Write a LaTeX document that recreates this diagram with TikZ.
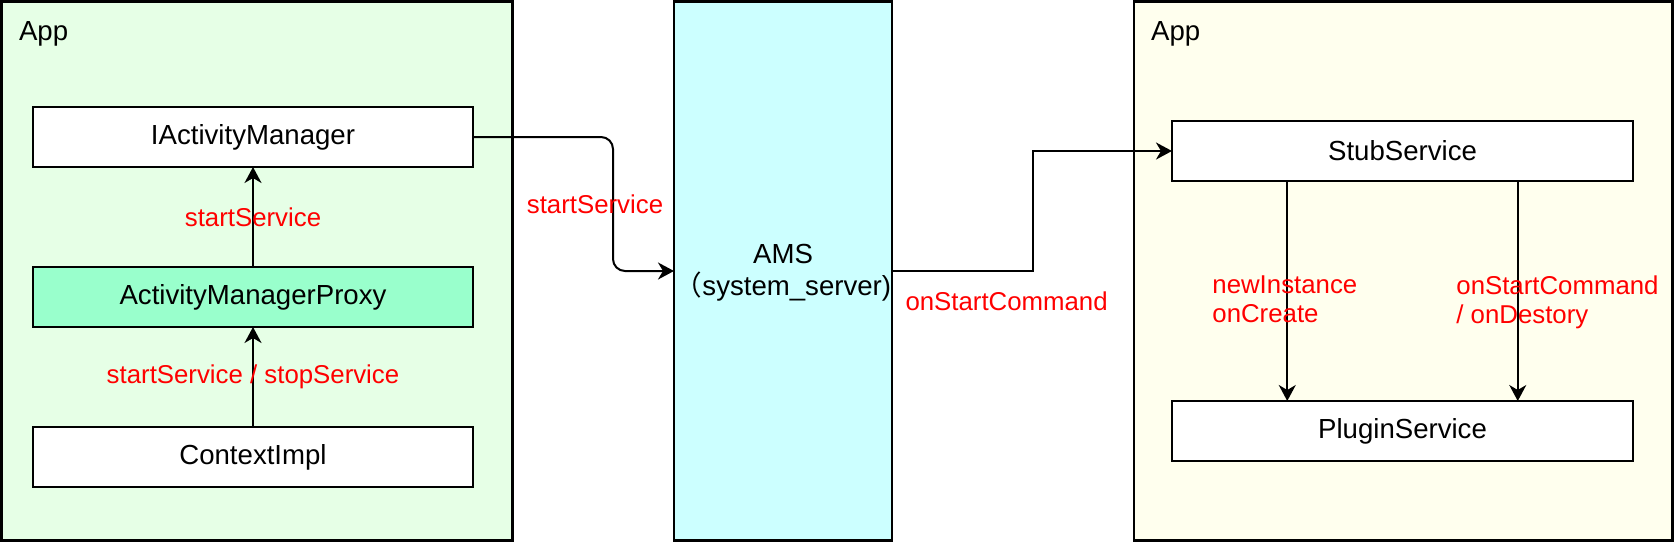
\documentclass[tikz,border=0pt]{standalone}
\usepackage{fontspec}
\setmainfont{Liberation Sans}
\newfontfamily\cjk{Noto Sans CJK SC}
\usetikzlibrary{arrows.meta,calc}
\definecolor{appgreen}{HTML}{E6FFE6}
\definecolor{proxygreen}{HTML}{99FFCC}
\definecolor{amscyan}{HTML}{CCFFFF}
\definecolor{appyellow}{HTML}{FFFFEE}
\begin{document}
\begin{tikzpicture}[x=0.5pt,y=-0.5pt,
  box/.style={draw=black, line width=1.1pt, fill=white, minimum width=220pt, minimum height=30pt, inner sep=0pt, outer sep=0pt, font=\fontsize{13.8}{16}\selectfont},
  container/.style={draw=black, line width=1.1pt, inner sep=0pt, outer sep=0pt},
  arr/.style={line width=1pt, -{Stealth[length=8pt,width=8.5pt,inset=2.5pt]}},
  lbl/.style={text=red, inner sep=0pt, font=\fontsize{12.9}{14.5}\selectfont},
  title/.style={inner sep=0pt, font=\fontsize{13.8}{16}\selectfont}]
\useasboundingbox (0,0) rectangle (1674,542);
% containers
\node[container, fill=appgreen, minimum width=255.5pt, minimum height=269.5pt] (appL) at (257,271) {};
\node[container, fill=amscyan, minimum width=109pt, minimum height=269.5pt] (ams) at (783,271) {};
\node[container, fill=appyellow, minimum width=269.25pt, minimum height=269.5pt] (appR) at (1403.25,271) {};
\node[title, anchor=base west] (appLt) at (18.6,40) {App};
\node[title, anchor=base west] (appRt) at (1150.8,40) {App};
\node[title, align=center] (amst) at (783,273) {AMS\\{\cjk （}system\_server)};
% boxes
\node[box] (iam) at (253,137) {IActivityManager};
\node[box, fill=proxygreen] (proxy) at (253,297) {ActivityManagerProxy};
\node[box] (cimpl) at (253,457) {ContextImpl};
\node[box, minimum width=230.5pt] (stub) at (1402.5,151) {StubService};
\node[box, minimum width=230.5pt] (plugin) at (1402.5,431) {PluginService};
% connectors
\draw[arr] (cimpl.north) -- node[lbl] {startService / stopService} (proxy.south);
\draw[arr] (proxy.north) -- node[lbl] {startService} (iam.south);
\coordinate (c1) at (613,0);
\coordinate (c2) at (1033,0);
\draw[arr, rounded corners=6pt] (iam.east) -| (c1 |- ams.west) -- (ams.west);
\node[lbl] (l1) at (595,204) {startService};
\draw[arr] (ams.east) -| (c2 |- stub.west) -- (stub.west);
\node[lbl] (l2) at (1006.6,301) {onStartCommand};
\draw[arr] ($(stub.south west)!0.25!(stub.south east)$) -- ($(plugin.north west)!0.25!(plugin.north east)$);
\draw[arr] ($(stub.south west)!0.75!(stub.south east)$) -- ($(plugin.north west)!0.75!(plugin.north east)$);
\node[lbl, align=left, anchor=west] (l3) at (1212,299) {newInstance\\onCreate};
\node[lbl, align=left, anchor=west] (l4) at (1456,302) {onStartCommand\\/ onDestory};
\end{tikzpicture}
\end{document}
